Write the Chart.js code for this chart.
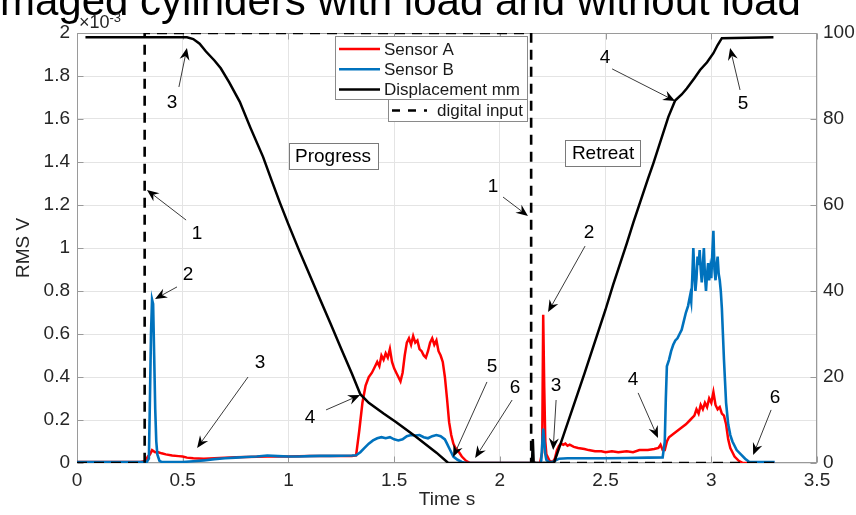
<!DOCTYPE html>
<html>
<head>
<meta charset="utf-8">
<script src="https://cdn.jsdelivr.net/npm/chart.js@4.4.1/dist/chart.umd.min.js"></script>
<style>
  html, body { margin: 0; padding: 0; background: #ffffff; }
  canvas { display: block; }
</style>
</head>
<body>
<canvas id="chart" width="856" height="515"></canvas>
<script>
// ---- Sensor A (RMS, units of 1e-3 V) ----
const timeA = [0, 0.30, 0.325, 0.335, 0.345, 0.355, 0.37, 0.385, 0.40, 0.42, 0.45, 0.48, 0.50, 0.52, 0.55, 0.60, 0.65, 0.70, 0.75, 0.80, 0.90, 1.00, 1.10, 1.20, 1.30,
  1.32, 1.335, 1.35, 1.365, 1.38, 1.395, 1.41, 1.42, 1.43, 1.44, 1.45, 1.46, 1.47, 1.48, 1.49, 1.50, 1.51, 1.52, 1.53, 1.54, 1.55, 1.56, 1.57, 1.58, 1.59, 1.60,
  1.61, 1.62, 1.63, 1.64, 1.65, 1.66, 1.67, 1.68, 1.69, 1.70, 1.71, 1.72, 1.73, 1.74, 1.75, 1.76, 1.77, 1.78, 1.79, 1.80, 1.82, 1.84, 1.86,
  2.19, 2.20, 2.205, 2.21, 2.215, 2.22, 2.235, 2.25, 2.26, 2.27, 2.28, 2.29, 2.30, 2.31, 2.32, 2.33, 2.35, 2.37, 2.40, 2.42, 2.45, 2.48, 2.50, 2.53, 2.56, 2.60,
  2.63, 2.66, 2.70, 2.73, 2.75, 2.76, 2.77, 2.78, 2.79, 2.80, 2.82, 2.84, 2.86, 2.88, 2.90, 2.92, 2.93, 2.94, 2.95, 2.96, 2.97, 2.98, 2.99, 3.00, 3.01, 3.02,
  3.03, 3.04, 3.05, 3.06, 3.07, 3.08, 3.09, 3.10, 3.11, 3.13, 3.15, 3.30];
const sensorA = [0.005, 0.005, 0.01, 0.03, 0.04, 0.06, 0.05, 0.05, 0.045, 0.04, 0.035, 0.032, 0.03, 0.025, 0.022, 0.02, 0.022, 0.025, 0.027, 0.028, 0.03, 0.03, 0.032, 0.033, 0.033,
  0.035, 0.15, 0.28, 0.36, 0.40, 0.42, 0.45, 0.47, 0.45, 0.50, 0.48, 0.51, 0.49, 0.53, 0.47, 0.44, 0.42, 0.40, 0.38, 0.42, 0.50, 0.56, 0.58, 0.55, 0.59, 0.56,
  0.57, 0.53, 0.52, 0.50, 0.49, 0.52, 0.56, 0.58, 0.55, 0.57, 0.52, 0.50, 0.47, 0.40, 0.30, 0.19, 0.13, 0.09, 0.07, 0.06, 0.03, 0.01, 0,
  0, 0.05, 0.69, 0.35, 0.10, 0.04, 0.01, 0.005, 0.02, 0.06, 0.08, 0.09, 0.085, 0.09, 0.08, 0.085, 0.075, 0.07, 0.065, 0.06, 0.055, 0.055, 0.05, 0.055, 0.05, 0.055,
  0.05, 0.06, 0.06, 0.065, 0.07, 0.085, 0.06, 0.06, 0.10, 0.12, 0.135, 0.15, 0.165, 0.18, 0.20, 0.22, 0.25, 0.23, 0.27, 0.25, 0.28, 0.26, 0.30, 0.28, 0.33, 0.27,
  0.25, 0.26, 0.23, 0.22, 0.18, 0.11, 0.07, 0.05, 0.03, 0.01, 0, 0];

// ---- Sensor B (RMS, units of 1e-3 V) ----
const timeB = [0, 0.33, 0.34, 0.345, 0.35, 0.355, 0.36, 0.365, 0.37, 0.375, 0.38, 0.39, 0.40, 0.50, 0.55, 0.60, 0.65, 0.70, 0.75, 0.80, 0.85, 0.90, 0.95, 1.00,
  1.05, 1.10, 1.15, 1.20, 1.25, 1.30, 1.32, 1.34, 1.36, 1.38, 1.40, 1.42, 1.44, 1.46, 1.48, 1.50, 1.52, 1.54, 1.56, 1.58, 1.60, 1.62, 1.64, 1.66, 1.68, 1.70,
  1.72, 1.74, 1.75, 1.76, 1.77, 1.78, 1.80, 1.82, 1.84,
  2.195, 2.20, 2.205, 2.21, 2.215, 2.22, 2.23, 2.25, 2.26, 2.28, 2.32, 2.40, 2.50, 2.60, 2.70, 2.77, 2.78, 2.785, 2.79, 2.80, 2.81, 2.82, 2.83, 2.84, 2.85,
  2.86, 2.87, 2.88, 2.89, 2.90, 2.905, 2.91, 2.915, 2.92, 2.925, 2.93, 2.935, 2.94, 2.945, 2.95, 2.955, 2.96, 2.965, 2.97, 2.975, 2.98, 2.985, 2.99, 2.995,
  3.00, 3.005, 3.01, 3.015, 3.02, 3.025, 3.03, 3.035, 3.04, 3.045, 3.05, 3.055, 3.06, 3.065, 3.07, 3.08, 3.09, 3.10, 3.11, 3.12, 3.14, 3.16, 3.18, 3.30];
const sensorB = [0.005, 0.005, 0.02, 0.30, 0.60, 0.76, 0.74, 0.50, 0.25, 0.10, 0.04, 0.01, 0.005, 0.005, 0.008, 0.012, 0.018, 0.022, 0.025, 0.028, 0.03, 0.035, 0.032, 0.03,
  0.03, 0.032, 0.033, 0.033, 0.034, 0.035, 0.036, 0.05, 0.07, 0.09, 0.105, 0.115, 0.12, 0.115, 0.12, 0.11, 0.105, 0.11, 0.125, 0.13, 0.128, 0.13, 0.12, 0.115, 0.125, 0.13,
  0.125, 0.11, 0.09, 0.07, 0.05, 0.03, 0.015, 0.005, 0,
  0, 0.08, 0.16, 0.10, 0.04, 0.015, 0.005, 0.005, 0.01, 0.02, 0.022, 0.022, 0.022, 0.023, 0.025, 0.026, 0.10, 0.30, 0.45, 0.48, 0.52, 0.55, 0.57, 0.58, 0.60,
  0.62, 0.66, 0.70, 0.73, 0.78, 0.75, 0.86, 1.00, 0.88, 0.80, 0.86, 0.96, 0.92, 0.99, 0.90, 0.84, 0.92, 1.00, 0.87, 0.80, 0.88, 0.93, 0.85, 0.90,
  0.86, 0.98, 1.08, 0.90, 0.85, 0.92, 0.96, 0.88, 0.85, 0.80, 0.72, 0.60, 0.48, 0.38, 0.28, 0.18, 0.13, 0.10, 0.08, 0.06, 0.04, 0.02, 0.005, 0.005];

// ---- Cylinder displacement (mm, right axis) ----
const timeDisp = [0.04, 0.52, 0.55, 0.58, 0.61, 0.65, 0.68, 0.72, 0.77, 0.82, 0.88, 0.92, 0.96, 1.00, 1.05, 1.10, 1.15, 1.20, 1.25, 1.30, 1.34, 1.38, 1.45, 1.51,
  1.60, 1.70, 1.756, 2.152, 2.156, 2.16, 2.256, 2.30, 2.40, 2.50, 2.536, 2.60, 2.632, 2.70, 2.726, 2.797, 2.829, 2.86, 2.884, 2.92, 2.947, 2.98, 3.01, 3.03, 3.05, 3.294];
const displacement = [99, 99, 98.6, 97.5, 95.7, 93.6, 91.8, 88.5, 84, 78, 71.2, 65.8, 60.5, 55.5, 49.5, 43.8, 38, 32.3, 26.5, 20.8, 16, 14, 11.5, 9.5,
  6.2, 2.4, 0, 0, 5.6, 0, 0, 6.3, 20.8, 35.7, 41.5, 51, 56, 66, 69.7, 80.5, 84.3, 85.7, 87.1, 89.5, 91.4, 93.2, 95.3, 97.2, 98.8, 99];

// ---- Valve digital input (right axis, 0 / 100) ----
const timeInput = [0, 0.32, 0.32, 2.148, 2.148, 3.30];
const digitalInput = [0, 0, 100, 100, 0, 0];

// numbered callouts: label, label position, arrow tail, arrow head  (time s, RMS x1e-3 V)
const callouts = [
  ['3', 0.449, 1.674, 0.482, 1.749, 0.520, 1.930],
  ['1', 0.568, 1.065, 0.516, 1.130, 0.331, 1.270],
  ['2', 0.525, 0.874, 0.473, 0.819, 0.369, 0.763],
  ['3', 0.866, 0.465, 0.809, 0.400, 0.568, 0.070],
  ['4', 1.102, 0.209, 1.178, 0.247, 1.339, 0.316],
  ['5', 1.963, 0.447, 1.939, 0.377, 1.779, 0.028],
  ['6', 2.072, 0.349, 2.058, 0.293, 1.883, 0.023],
  ['1', 1.968, 1.284, 2.015, 1.237, 2.133, 1.149],
  ['2', 2.422, 1.070, 2.403, 1.009, 2.228, 0.702],
  ['3', 2.266, 0.358, 2.266, 0.293, 2.252, 0.060],
  ['4', 2.630, 0.386, 2.654, 0.326, 2.748, 0.116],
  ['6', 3.302, 0.302, 3.283, 0.247, 3.198, 0.037],
  ['4', 2.498, 1.884, 2.531, 1.833, 2.829, 1.684],
  ['5', 3.150, 1.670, 3.136, 1.735, 3.089, 1.930]
];
const phaseLabels = ['Progress', 'Retreat'];
const phaseAt = [[1.211, 1.428], [2.488, 1.442]];

const headline = 'maged cylinders with load and without load';

const FONT = '"Liberation Sans", Arial, Helvetica, sans-serif';
const INK = '#262626';
const FRAME = '#9a9a9a';
const GRID = '#e4e4e4';

const pairs = (xs, ys) => xs.map((x, i) => ({ x, y: ys[i] }));
const fmt = v => String(parseFloat(Number(v).toFixed(2)));

// headline and the axis exponent
const headerPlugin = {
  id: 'header',
  afterDraw(chart) {
    const { ctx, chartArea: a } = chart;
    ctx.save();
    ctx.textAlign = 'left';
    ctx.textBaseline = 'alphabetic';
    ctx.fillStyle = '#000';
    ctx.font = `42px ${FONT}`;
    ctx.fillText(headline, 0, 15);
    ctx.fillStyle = INK;
    ctx.font = `18px ${FONT}`;
    ctx.fillText('\u00d710', a.left + 2, a.top - 5);
    const w = ctx.measureText('\u00d710').width;
    ctx.font = `13px ${FONT}`;
    ctx.fillText('-3', a.left + 2 + w, a.top - 11);
    ctx.restore();
  }
};

// axes box with inward tick marks
const framePlugin = {
  id: 'frame',
  beforeDatasetsDraw(chart) {
    const { ctx, chartArea: a, scales } = chart;
    const L = 6;
    ctx.save();
    ctx.strokeStyle = FRAME;
    ctx.lineWidth = 1;
    const l = Math.round(a.left) + 0.5, t = Math.round(a.top) + 0.5;
    const r = Math.round(a.right) - 0.5, b = Math.round(a.bottom) - 0.5;
    ctx.strokeRect(l, t, r - l, b - t);
    ctx.beginPath();
    scales.x.ticks.forEach(tk => {
      const px = Math.round(scales.x.getPixelForValue(tk.value)) + 0.5;
      ctx.moveTo(px, b); ctx.lineTo(px, b - L);
      ctx.moveTo(px, t); ctx.lineTo(px, t + L);
    });
    scales.y.ticks.forEach(tk => {
      const py = Math.round(scales.y.getPixelForValue(tk.value)) + 0.5;
      ctx.moveTo(l, py); ctx.lineTo(l + L, py);
    });
    scales.y1.ticks.forEach(tk => {
      const py = Math.round(scales.y1.getPixelForValue(tk.value)) + 0.5;
      ctx.moveTo(r, py); ctx.lineTo(r - L, py);
    });
    ctx.stroke();
    ctx.restore();
  }
};

function arrow(ctx, x0, y0, x1, y1) {
  const ang = Math.atan2(y1 - y0, x1 - x0);
  const len = 12, half = 5, notch = 8;
  ctx.strokeStyle = '#3a3a3a';
  ctx.lineWidth = 1;
  ctx.beginPath();
  ctx.moveTo(x0, y0);
  ctx.lineTo(x1 - Math.cos(ang) * notch, y1 - Math.sin(ang) * notch);
  ctx.stroke();
  const bx = x1 - Math.cos(ang) * len, by = y1 - Math.sin(ang) * len;
  const nx = -Math.sin(ang), ny = Math.cos(ang);
  ctx.fillStyle = '#000';
  ctx.beginPath();
  ctx.moveTo(x1, y1);
  ctx.lineTo(bx + nx * half, by + ny * half);
  ctx.lineTo(x1 - Math.cos(ang) * notch, y1 - Math.sin(ang) * notch);
  ctx.lineTo(bx - nx * half, by - ny * half);
  ctx.closePath();
  ctx.fill();
}

// numbered callouts and phase boxes
const calloutPlugin = {
  id: 'callouts',
  afterDatasetsDraw(chart) {
    const { ctx, scales: { x, y } } = chart;
    ctx.save();
    callouts.forEach(([txt, lx, ly, tx, ty, hx, hy]) => {
      arrow(ctx, x.getPixelForValue(tx), y.getPixelForValue(ty), x.getPixelForValue(hx), y.getPixelForValue(hy));
      ctx.fillStyle = '#000';
      ctx.font = `19px ${FONT}`;
      ctx.textAlign = 'center';
      ctx.textBaseline = 'middle';
      ctx.fillText(txt, x.getPixelForValue(lx), y.getPixelForValue(ly));
    });
    phaseLabels.forEach((txt, i) => {
      const cx = x.getPixelForValue(phaseAt[i][0]);
      const cy = y.getPixelForValue(phaseAt[i][1]);
      ctx.font = `19px ${FONT}`;
      const w = ctx.measureText(txt).width + 13, h = 26;
      const bx = Math.round(cx - w / 2) + 0.5, by = Math.round(cy - h / 2) + 0.5;
      ctx.fillStyle = '#fff';
      ctx.fillRect(bx, by, Math.round(w), h);
      ctx.strokeStyle = '#7a7a7a';
      ctx.lineWidth = 1;
      ctx.strokeRect(bx, by, Math.round(w), h);
      ctx.fillStyle = '#000';
      ctx.textAlign = 'center';
      ctx.textBaseline = 'middle';
      ctx.fillText(txt, cx, cy + 1);
    });
    ctx.restore();
  }
};

// two-part legend: three solid series, then the dashed input
const legendPlugin = {
  id: 'splitLegend',
  afterDatasetsDraw(chart) {
    const { ctx } = chart;
    const ds = chart.data.datasets;
    const right = 527.5, top = 36.5;
    ctx.save();
    ctx.fillStyle = '#fff';
    ctx.strokeStyle = '#8a8a8a';
    ctx.lineWidth = 1;
    ctx.fillRect(335.5, top, right - 335.5, 63);
    ctx.strokeRect(335.5, top, right - 335.5, 63);
    ctx.fillRect(388.5, top + 63, right - 388.5, 22);
    ctx.strokeRect(388.5, top + 63, right - 388.5, 22);
    ctx.font = `17px ${FONT}`;
    ctx.textAlign = 'left';
    ctx.textBaseline = 'middle';
    for (let i = 0; i < 3; i++) {
      const cy = top + 12.5 + i * 20.2;
      ctx.strokeStyle = ds[i].borderColor;
      ctx.lineWidth = 2.5;
      ctx.setLineDash([]);
      ctx.beginPath(); ctx.moveTo(339, cy); ctx.lineTo(380, cy); ctx.stroke();
      ctx.fillStyle = '#1a1a1a';
      ctx.fillText(ds[i].label, 384, cy + 1);
    }
    const cy = top + 74;
    ctx.strokeStyle = ds[3].borderColor;
    ctx.lineWidth = 2.5;
    ctx.setLineDash([8, 8]);
    ctx.beginPath(); ctx.moveTo(392, cy); ctx.lineTo(427, cy); ctx.stroke();
    ctx.setLineDash([]);
    ctx.fillStyle = '#1a1a1a';
    ctx.fillText(ds[3].label, 437, cy + 1);
    ctx.restore();
  }
};

const tickFont = { size: 19, family: FONT };

new Chart(document.getElementById('chart'), {
  type: 'line',
  data: {
    datasets: [
      { label: 'Sensor A', data: pairs(timeA, sensorA), borderColor: '#ff0000', borderWidth: 2.5, yAxisID: 'y', order: 3 },
      { label: 'Sensor B', data: pairs(timeB, sensorB), borderColor: '#0072bd', borderWidth: 2.6, yAxisID: 'y', order: 2 },
      { label: 'Displacement mm', data: pairs(timeDisp, displacement), borderColor: '#000000', borderWidth: 2.5, yAxisID: 'y1', order: 1 },
      { label: 'digital input', data: pairs(timeInput, digitalInput), borderColor: '#000000', borderWidth: 2.6, borderDash: [10, 7], yAxisID: 'y1', order: 0 }
    ]
  },
  options: {
    responsive: false,
    animation: false,
    devicePixelRatio: 1,
    layout: { padding: { top: 33, left: 0, right: 0, bottom: 0 } },
    elements: { point: { radius: 0 }, line: { tension: 0, fill: false } },
    plugins: { legend: { display: false }, tooltip: { enabled: false } },
    scales: {
      x: {
        type: 'linear', min: 0, max: 3.5,
        ticks: { stepSize: 0.5, color: INK, font: tickFont, padding: 6, maxRotation: 0, autoSkip: false, callback: fmt },
        grid: { color: GRID, drawTicks: false },
        border: { display: false },
        title: { display: true, text: 'Time s', color: INK, font: tickFont, padding: { top: 0, bottom: 4 } },
        afterFit(s) { s.height = 52; }
      },
      y: {
        position: 'left', min: 0, max: 2,
        ticks: { stepSize: 0.2, color: INK, font: tickFont, padding: 7, callback: fmt },
        grid: { color: GRID, drawTicks: false },
        border: { display: false },
        title: { display: true, text: 'RMS V', color: INK, font: tickFont, padding: { top: 12, bottom: 0 } },
        afterFit(s) { s.width = 77; }
      },
      y1: {
        position: 'right', min: 0, max: 100,
        ticks: { stepSize: 20, color: INK, font: tickFont, padding: 6, callback: fmt },
        grid: { display: false, drawTicks: false },
        border: { display: false },
        afterFit(s) { s.width = 39; }
      }
    }
  },
  plugins: [framePlugin, calloutPlugin, legendPlugin, headerPlugin]
});
</script>
</body>
</html>
